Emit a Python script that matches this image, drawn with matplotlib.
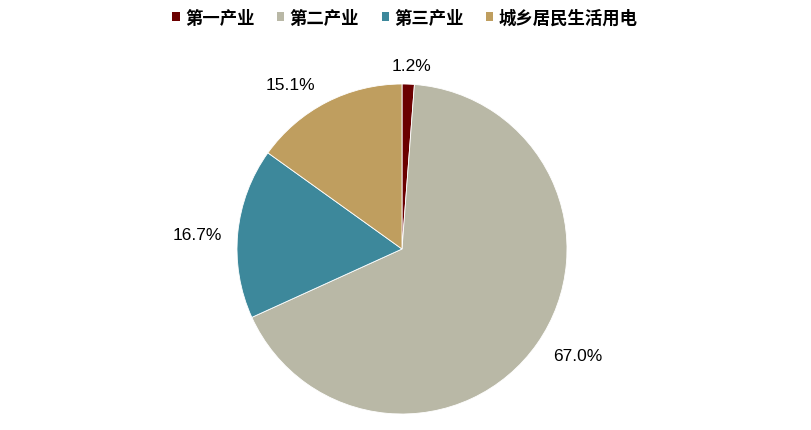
import matplotlib
matplotlib.use('Agg')
import matplotlib.pyplot as plt
from matplotlib.patches import Patch

plt.rcParams['font.family'] = ['Liberation Sans', 'Noto Sans CJK SC', 'DejaVu Sans']

categories = ['第一产业', '第二产业', '第三产业', '城乡居民生活用电']
shares = [1.2, 67.0, 16.7, 15.1]
colors = ['#6B0000', '#B9B8A6', '#3D889B', '#BF9E5F']

# where each percentage label sits, in pie-radius units from the centre
label_pos = [(0.06, 1.11), (1.067, -0.648), (-1.242, 0.085), (-0.679, 0.994)]

W, H = 812, 431
fig = plt.figure(figsize=(W / 100, H / 100), dpi=100)
cx, cy, r = 402, 250, 165
ax = fig.add_axes([(cx - r) / W, (H - cy - r) / H, 2 * r / W, 2 * r / H])

wedges, texts = ax.pie(shares, colors=colors, startangle=90, counterclock=False,
                       radius=1, wedgeprops=dict(edgecolor='white', linewidth=0.6))
ax.set_xlim(-1, 1)
ax.set_ylim(-1, 1)
ax.axis('off')

for s, (x, y) in zip(shares, label_pos):
    ax.text(x, y, '{:.1f}%'.format(s), ha='center', va='center',
            fontsize=12.5, color='black', clip_on=False)

handles = [Patch(facecolor=c, edgecolor='none') for c in colors]
fig.legend(handles, categories, loc='center', bbox_to_anchor=(405 / W, 1 - 19 / H),
           ncol=4, frameon=False, handlelength=0.42, handleheight=0.42,
           handletextpad=0.3, columnspacing=1.3,
           prop={'family': ['Noto Sans CJK SC', 'DejaVu Sans'], 'size': 12.5,
                 'weight': 'bold'})

fig.savefig('out.png', dpi=100, facecolor='white')
